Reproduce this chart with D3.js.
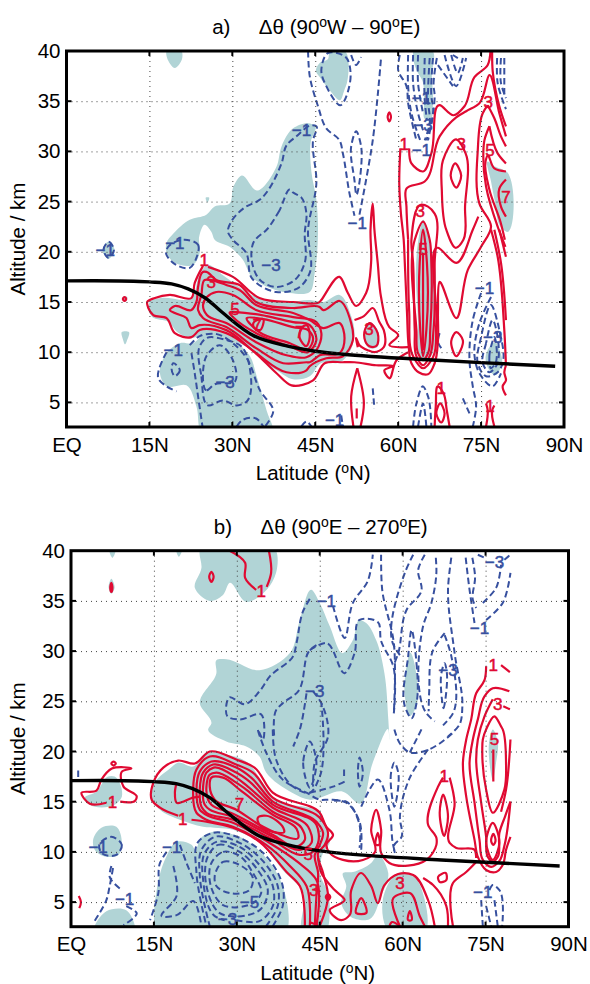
<!DOCTYPE html>
<html>
<head>
<meta charset="utf-8">
<script src="https://cdn.jsdelivr.net/npm/d3@7"></script>
<style>
  html, body { margin: 0; padding: 0; background: #fff; }
  text { font-family: "Liberation Sans", sans-serif; white-space: pre; }
</style>
</head>
<body>
<div id="chart"></div>
<script>
// all contours are [latitude, altitude km]
const latTicks = [0, 15, 30, 45, 60, 75, 90];
const latLabels = ["EQ", "15N", "30N", "45N", "60N", "75N", "90N"];
const altTicks = [5, 10, 15, 20, 25, 30, 35, 40];

// tropopause, same in both panels
const tropopause = [[0,17.1],[15,17],[19,16.8],[22,16.3],[25.1,15.4],[28.1,14],[34,11.6],[40,10.6],[45,10.1],[50,9.8],[67,9.2],[88.4,8.6]];

///////// panel a

const aFills = [
  [[18.1,40],[20.8,40],[20.9,39.2],[19.6,38.3],[18.2,39.3]],
  [[47.6,40],[50.3,40],[50.8,37],[50.2,36],[49.5,35.1],[47.6,36.1],[45.8,37.4],[45.1,38],[45.8,38.8],[47.3,39.2]],
  [[62.8,40],[66.2,40],[66.1,37.5],[66.3,35],[65.8,33.2],[64.9,33.2],[64.7,35],[64.4,37],[63.4,38],[62.8,39]],
  [[43.7,32.8],[41,32.3],[38.9,30.5],[38,28.5],[34.4,26.1],[31.7,27.6],[30.2,26.5],[29.5,24.8],[26.8,24.5],[25.3,23.7],[22.3,23.2],[19.3,21.8],[18.1,20.9],[18.1,19.9],[19.6,18.9],[22.9,18.7],[24.1,19.9],[24,21.5],[25,22.7],[26.2,22],[26.8,21.2],[29.5,20.5],[31.9,19.2],[33.5,17.5],[35.6,16.7],[40.4,15.9],[44,16],[44.9,17.9],[45.5,22.2],[45.2,25.2],[44.3,28],[44.2,31],[45,32.5]],
  [[14.8,14.5],[15.2,15.1],[17,15.4],[22.6,15.4],[24,17.6],[25.5,18.7],[28,17.8],[31,16.6],[33.5,15.7],[37,15.2],[40,15],[44,15.2],[46.5,15],[49.4,15.7],[51.5,13.6],[52.1,11.8],[51.2,10],[49.5,9],[46,8.9],[44,7.6],[41,7.3],[38,8.2],[36,8.9],[34,10],[32,10.7],[29,11.4],[26,12],[22.5,11.4],[20,12],[18.5,13],[15.5,13.5]],
  [[25.3,12],[22.9,10.9],[20.5,10.9],[18.1,9.9],[16.9,7.9],[18.1,6.6],[21.7,6.7],[23.5,4.6],[24.4,2],[37.4,2],[36.2,4.2],[34.4,7.6],[33.2,9.6],[30.2,11.2],[27.2,11.9]],
  [[10,12],[11.3,12],[10.9,11.1],[10.6,10.8],[10.2,11.3]],
  [[10.2,15.5],[11,15.5],[10.6,15]],
  [[7.6,21],[8.7,20.2],[7.6,19.3],[6.5,20.2]],
  [[25.2,25.4],[25.8,25.4],[25.5,24.9]],
  [[64.5,23.2],[66,20],[66.8,18],[66.4,14],[66.3,10],[65.3,9.2],[64.4,9.2],[63.6,10],[63.6,13],[63.2,18],[63.6,21]],
  [[54.8,13],[56.4,12],[56.2,10.5],[54.8,10.4],[53.8,11.4],[54.2,12.6]],
  [[76.2,29],[77.5,28.5],[79.6,28],[79.6,22],[78.5,22.5],[77.5,25],[76.8,27]],
  [[77.5,11],[78.5,10],[78.8,9],[77.5,7.7],[76.5,8.2],[75.8,9.5],[76.5,10.5]]
];

const aRedLines = [
  [[24.7,18.6],[23.2,16.9],[22.6,15.4],[18.7,15.7],[16,15.4],[14.6,15],[14.8,14.4],[15.7,13.7],[18.1,13.4],[19.6,11.9],[22.6,11.5],[24.1,12.2],[28.9,11.9],[33.8,10.1],[38,7.9],[40.7,6.7],[44.6,7.2],[46.7,8.9],[50,9],[52.1,9],[56,8.7],[59,8.6],[57.5,8.2],[58.4,7.4],[59.7,9.2],[61.8,10]],
  [[25.6,18.5],[30.1,17.5],[34.9,15.4],[41,15],[45.8,15],[46.1,15.2],[49.4,17.5],[50.9,15.9],[52.4,14.6],[54.2,15.9],[55.1,18.9],[55,22.2],[55.4,24.8],[55.7,22.2],[56.3,18.9],[56.9,15.5],[58.4,12.5],[60,11.7],[58.4,10.7],[61.8,10.5]],
  // 60N column and the level 1 line up to the top
  [[76.7,40],[76.2,38.6],[73.8,37.4],[72,34.5],[70,33.6],[67.5,34.6],[66,29.8],[64.5,28],[62.4,28.8],[62,30.3]],
  [[60.4,30.3],[60.2,26.8],[60.5,23.8],[61,21.2],[61.2,18.9],[61.6,13.9],[61.9,10.6],[62.4,8.9],[63.7,8],[65.4,7.8],[66.6,8.9],[67.2,11.2],[67.2,14],[67.5,17],[70.5,13.4],[72.6,18.2],[75,20.5],[76.8,22.5],[74.7,24.8],[74.4,30.1],[75.3,33.8],[76.2,34.6]],
  [[61.8,21.2],[61.5,24.5],[61.5,26.3],[64.8,27],[67.5,31.5],[70.5,33.4],[72.3,34],[74.7,34.8],[76.5,37.6],[78.3,33.8],[79.5,31.5]],
  [[61.8,21.2],[62,14],[62.7,9.6],[64.5,8.4],[66.3,9.5],[66.9,13],[67.2,20.4],[70.5,18.9],[73.5,22.2],[74.5,23.5]],
  [[77,40],[77.1,38],[78.3,34.5],[79.5,32.5]],
  [[76.2,34.6],[77.4,33.3],[78.6,31.5],[79.5,30.5]],
  [[76.5,32.5],[75.6,31.1],[75.4,29.5],[75.9,26.5],[78,22.5],[78.9,21.2],[79.4,20.5]],
  [[76.5,32.5],[78,29.8],[79.5,28.8]],
  [[79.5,28],[77.4,28.3],[76.2,29.6],[75.8,29],[76.5,26.2],[78.5,23],[79.3,21.2]],
  [[79.5,27.2],[78.3,26.3],[78.6,24.5],[79.5,23.5]],
  [[76.8,22.2],[78,19.5],[79.2,12.2],[79.5,8.7]],
  [[77.4,22.2],[78.6,18.9],[79.5,13.2]],
  [[78.3,22.2],[79.5,19.5]],
  [[64.5,19.9],[64.5,10.2]],
  [[52.6,8.4],[51.5,5.6],[51.9,2.6]],
  [[52.6,8.4],[53.8,4.9],[53.2,2.6]],
  [[52.5,4.4],[52.5,3.4]],
  [[66.6,2.6],[66.8,4.6],[67.2,6.6],[68.2,5.9],[68.8,4.2],[69.3,2.6]],
  [[75.9,2.6],[76.2,4.2],[75.9,4.9]],
  [[77.4,2.6],[77,4.2],[77.4,4.7]],
  [[79.5,8.7],[79.2,8],[79.5,7.2],[78.9,6.6],[79.5,5.7]],
  [[52.1,13.2],[53.8,13.6],[55.4,14.4],[56.6,13],[57.4,12.2],[57.4,10.5],[55.7,10],[54.5,10.2],[53,10.7],[52.4,11.4],[52.7,10.5]]
];

const aRedLoops = [
  [[25.3,18],[27.1,17.2],[31.3,16.7],[34.3,15],[41,14.4],[45.8,14.5],[46.4,14.2],[49.4,15.1],[51.5,12.9],[51.8,11.2],[50,9.6],[47,9.4],[44,8.6],[43.4,8.2],[39.8,8],[34.3,9.9],[28.9,12.2],[24.1,12.7],[22.6,12.4],[21.7,13.4],[19.6,13.9],[18.7,14.2],[19.6,14.6],[22.6,14.2],[23.5,15],[23.8,16.5],[24.7,18]],
  [[25.9,17.2],[28.9,16.7],[31.3,16.2],[34.3,14.7],[41,13.9],[44,13.2],[46.4,12.4],[49.4,12.9],[50.3,11.4],[49.4,9.9],[45.8,9.7],[44,9],[43.4,9],[39.2,8.9],[34.3,10.4],[28.9,12.5],[24.7,13.4],[23.8,14.2],[24.4,15.7],[25,17.2]],
  [[25.4,15.5],[27.1,16],[30.1,15.7],[34.3,14.2],[41,13.5],[45.2,13],[46.1,11.9],[45.2,10.2],[43.4,9.5],[39.8,9.7],[34.3,11],[28.9,12.9],[25.4,13.7],[24.7,14.7]],
  [[29.5,13.9],[32.6,13.9],[36.2,13.6],[41,13],[44,12.7],[45.2,11.2],[43.7,10],[40.4,10.6],[35,11.7],[30.1,13.5]],
  [[32.6,13.4],[35.6,13.3],[41,12.5],[43.7,12.2],[44.6,11.4],[43.7,10.3],[40.4,10.9],[34.9,12]],
  [[33.8,12.9],[35.6,13.3],[35,12.2],[34,12.4]],
  [[43.4,12.7],[44,11.5],[43.4,10.6],[42.2,11.4],[42.5,12.4]],
  [[64.2,24.7],[62.4,21.2],[62.7,18.9],[63,12.2],[63.3,9.6],[64.5,8.7],[65.7,9.6],[66.4,12.2],[66.6,18.9],[66.6,23.8],[65.4,24.5]],
  [[64.5,23],[63,21.2],[63.3,12.2],[63.6,9.9],[64.5,9.2],[65.4,9.9],[65.8,12.2],[66,18.9],[65.7,21.2]],
  [[64.5,22.2],[63.9,18.9],[64,12.2],[64.5,9.6],[65.1,12.2],[65.2,18.9]],
  [[70.5,31.2],[68.1,29.1],[67.9,26.1],[68.7,22.2],[70.5,20.4],[71.8,21.2],[72.1,24.5],[72.2,29.8]],
  [[70.3,28.8],[71.4,27.6],[70.5,26.4],[69.5,27.6]],
  [[70.5,12],[71.7,11.2],[70.5,9.6],[69.6,11.1]],
  [[67.6,4.9],[66.9,3.9],[67.8,3],[68.4,3.9]],
  [[54.8,12.9],[56.3,11.9],[56,10.6],[54.8,10.6],[53.9,11.4],[54.2,12.5]],
  [[58.4,33.9],[58.7,33.4],[58.4,33],[58.1,33.4]],
  [[10.5,15.5],[10.8,15.3],[10.5,15.1],[10.2,15.3]]
];

const aBlueLines = [
  [[43.7,40],[44,37.5],[45.5,34.5],[47,32.3],[49.4,31.1],[50,29.8],[51.2,25.8],[52.1,23.6]],
  [[53,23.7],[55.4,31.1],[56.9,39.3]],
  [[51.5,39.6],[52.4,38.6],[53.3,39.4]],
  [[22.3,10.7],[24.1,11.6],[27.2,11.8],[30.1,10.9],[32.6,9.4],[35,6.2],[37.4,4.1],[35.9,2.6]],
  [[18.1,10],[16.6,7.4],[18.1,6.6],[19.9,6.1]],
  [[22.6,9.9],[23.2,7.9],[23.8,5.6],[24.6,2.6]],
  [[30.8,2.6],[31.7,3.2],[34.3,3.4],[35.6,2.6]],
  [[42.5,2.6],[43.4,3.1],[44.3,2.6]],
  [[49.7,3.7],[50,2.6]],
  [[55.4,6.4],[55.7,4.4]],
  [[67.5,11.9],[67.2,11],[67.8,10.4]],
  [[62.7,2.6],[63.3,4.9],[64.5,6.6],[65.4,5.6],[66,2.6]],
  [[63.6,2.6],[64.5,4.9],[65.1,2.6]],
  [[75,15.9],[73.5,13.2],[72.9,9.2],[73.5,6.6],[74.1,4.6],[73.5,2.6]],
  [[71.7,5.4],[72.9,3.9]],
  [[76.8,15.5],[74.7,12.9],[73.8,9.7],[74.7,7.9],[77.1,6.6],[78.6,7.9]],
  [[60.3,39.6],[60,38.1],[61.5,36.5],[61.8,34.8],[63.3,31.1]],
  [[61.8,39.6],[61.8,36.5],[62.4,33.8],[64.2,30.8]],
  [[62.7,39.6],[62.7,36.8],[63.6,33.8],[64.5,32.1]],
  [[63.6,39.6],[63.6,36.8],[64.5,33.8]],
  [[64.8,39.3],[64.8,35.1],[65.2,33.1]],
  [[65.7,39.3],[65.4,35.1],[65.7,32.8],[64.8,31.1]],
  [[66.3,39.3],[66,35.5],[66.4,34],[65.1,31.1]],
  [[67,39.3],[66.4,36.6],[66.6,35.6],[65.4,31.1]],
  [[68.4,39.6],[70.5,36.5],[72.3,39.3]],
  [[69.6,39.6],[70.8,37.8],[71.7,39.3]],
  [[67.2,38.6],[69.9,36.5]],
  [[69.9,39.6],[70.8,39.3]],
  [[77.9,39.3],[78,36.8],[79.5,34.2]],
  [[78.6,39.3],[78.6,36.8],[79.5,35.3]],
  [[79.2,39.3],[79.2,35.5]]
];

const aBlueLoops = [
  [[52.4,32],[51.5,30.5],[52.1,27.1],[52.4,25.7],[53.3,30.5]],
  [[50.5,39.4],[51.4,37.5],[49.5,34.6],[47,36.5],[46.1,38],[47.3,39.8]],
  [[41.6,31.5],[39.8,30.6],[38.9,28.8],[35,25.2],[32.2,24.4],[29.8,23],[29.2,22],[30.1,21.2],[32.5,19.9],[33.5,17.4],[37.9,16],[42.2,16.5],[44,17.9],[43.7,22.2],[45.2,26.8],[44.6,31.1],[45.2,32.5],[44.3,32.6]],
  [[40.5,26.2],[38.5,24.1],[36.2,22.2],[34.3,21.3],[33.8,20.9],[33.5,19.2],[35,17.2],[37.9,16.5],[41.3,17.2],[43.1,18.9],[43.1,21.9],[43.4,23.8],[42.5,25.4],[41,25.9]],
  [[21.4,21.2],[23.8,20.7],[23.5,19.4],[22.3,18.4],[19.3,18.9],[18,19.9],[18.4,20.5]],
  [[7.6,21],[8.6,20.2],[7.6,19.4],[6.7,20.2]],
  [[24.1,10.6],[24.4,7.6],[25.6,4.7],[28.3,5.2],[30.8,4.7],[32.6,5.1],[33.1,8.6],[31.6,10.6],[29,11.2],[25.3,11.4]],
  [[25.3,9.6],[25.4,6.2],[26.8,6.8],[30.5,7.1],[30.1,9.2],[27.7,10.7]],
  [[19.3,8.9],[20.5,8.2],[19.6,7.6],[19,8.4]],
  [[76.8,14.7],[75,11.5],[74.4,8.9],[75.9,7.6],[78,8],[78.9,8.9],[78.3,12.2]],
  [[77.1,13.2],[75.9,10.9],[75.3,8.9],[76.5,8],[77.7,8.6],[78,11.5]],
  [[77.4,11.5],[76.5,9.6],[76.8,8.4],[77.6,8.9]]
];

const aRedLabels = [[24.9,19.2,"1"],[26.2,17,"3"],[30.5,14.3,"5"],[34.5,12.7,"7"],[42.2,12,"7"],[54.7,12.3,"3"],[64.5,20.3,"5"],[64,24.1,"3"],[61.1,30.7,"1"],[71.4,30.7,"3"],[76.3,34.9,"3"],[76.6,30.1,"5"],[79.5,25.5,"7"],[67.8,6.4,"1"],[76.6,4.6,"1"]];
const aBlueLabels = [[7,20.2,"−1"],[19.6,20.9,"−1"],[37,18.7,"−3"],[42.5,32.1,"−1"],[19.3,10.2,"−1"],[28.7,7,"−3"],[52.6,22.9,"−1"],[64.2,35.3,"−1"],[64.5,32.6,"−3"],[64.2,30.1,"−1"],[75.6,16.4,"−1"],[77.1,11.5,"−3"],[48.5,3.2,"−1"]];

///////// panel b

const bFills = [
  [[7,40],[8,40],[7.5,39.3]],
  [[7.3,37.2],[7.9,36.3],[7.3,35.7],[6.8,36.3]],
  [[19.1,40],[20,40],[19.5,39.4]],
  [[23.3,40],[37.1,40],[37.1,37.8],[35.4,36.1],[31.7,34.9],[28.7,36.8],[27.5,35.6],[25.1,35],[22.4,36.3],[23.6,38.3]],
  [[43.5,36.1],[41.4,33.1],[39.6,29.8],[34.1,28.1],[28.1,29.2],[26.3,29.1],[26.3,27.8],[23.3,24.8],[25.4,22.8],[24.8,22.2],[28.1,21],[31.7,20.5],[34.1,19.5],[35.3,17.9],[40,15.9],[43.2,15.2],[49.2,16],[52.2,14.8],[54.6,18.9],[57.4,22.2],[57.6,21.2],[57.4,23.2],[56.7,27.8],[55.2,31.1],[53.4,32.8],[52.2,33.1],[51,31.1],[49.2,29.8],[46.8,32.5],[45,34.8]],
  [[61.3,29.8],[62.5,24.5],[61.3,23.5],[60.4,25.5],[60.7,28.5]],
  [[76.3,22.2],[77.2,21],[76.9,18.9],[76.3,17.2],[75.7,18.9],[75.7,21.2]],
  [[14.6,15.4],[14.9,16.7],[17.9,18.3],[19.4,18.9],[22.1,18.5],[24.5,19.9],[28.1,19.7],[31.7,19],[34.7,16.9],[37.1,15.2],[45,13.9],[46.2,12.5],[46.8,10.9],[45.6,9.9],[45,7.9],[46.5,5.9],[46.8,4.2],[46,2],[42,2],[42,5.9],[38.3,8.2],[34.1,10.9],[29.3,12.2],[23.9,12.5],[19.7,13.2],[16.1,14.2]],
  [[49.2,7.9],[51,8],[54.3,8.9],[55.5,9.7],[57.4,7.9],[56.1,5.6],[54,3.3],[50.4,3.6],[48.9,4.9],[49.8,6.6]],
  [[59.2,7.9],[61.9,7.6],[64,5.2],[64,2],[57.6,2],[56.4,5.2]],
  [[25.7,12],[30.5,11.5],[35.3,9.4],[38.3,6.6],[39,2],[15.5,2],[15.5,6.2],[17.3,9.6],[19.1,11],[21.8,10.7],[22.5,10.2],[23.5,11.4]],
  [[4,11.2],[5.5,12.4],[8.2,12.5],[9.2,10.9],[8.6,9.7],[5.8,9.6],[4.3,10.2]],
  [[4,2],[6.4,4.1],[10,4.2],[11.6,2]],
  [[4.6,16],[6.7,17.5],[7.9,17.5],[9.2,15.5],[7.9,14.7],[3.4,14.7],[2.5,15.4]]
];

const bRedLines = [
  [[28.7,40],[31.5,38.8],[31.5,37.3],[33.5,36.1]],
  [[35.4,36.4],[36.2,37.8],[35.8,40]],
  [[6.4,14.9],[3.4,14.8],[1.9,15.9],[4.6,16.1],[5.5,17.2],[7.4,18.3],[10.9,18.3],[9.2,18],[9.5,16.5],[11.9,15.5],[11.6,15.1],[8.9,15]],
  [[19.4,13.6],[16.1,14.4],[14.6,15.2],[14.9,16.9],[16.7,18.4],[19.4,19.1],[22.4,18.8],[25.1,20],[29.9,19.2],[33.2,18.4],[36.5,15.9],[45,13.9],[46.2,12.5],[47.4,11.7],[46.2,10.7],[46.8,9.9],[49.2,9.2],[52.8,9.2],[55,10],[54.3,12.2],[55.2,14.2],[56.1,12.2],[56.1,9.9],[57.6,8.9],[64.3,9.2],[66.1,10.7],[66.1,11.4],[64.6,12.7],[66.4,16.5],[67.3,17.4]],
  [[68.5,17.4],[69.4,14.9],[68.5,10.9],[69.7,10.4],[73,10.2],[73.3,9.4]],
  [[21.8,13.2],[24.5,13],[29.3,12.4],[34.1,11],[39,8],[41.4,6.6],[42.3,2.6]],
  [[19.1,16.9],[18.8,15.9],[19.1,14.9],[22.1,15.4],[23.3,15.5]],
  // levels 2 and 3 run down to the bottom of the plot
  [[43.2,2.6],[42.6,6.6],[39.6,8.6],[35.3,10.7],[29.3,12.5],[24.5,13.2],[22.7,13.9],[22.1,16.2],[22.7,18.2],[25.1,19.5],[29.9,18.7],[32.9,17.9],[36.5,15.4],[45,13.4],[46.5,11.9],[45.9,10.7],[44.7,9.9],[45.6,7.9],[46.5,5.6],[45,2.6]],
  [[44.4,2.6],[44.4,7.2],[41,9],[35.6,11],[29.3,12.9],[24.8,13.6],[23.3,14.2],[22.7,16.2],[23.3,18],[25.4,19],[29.9,18.4],[32.6,17.4],[36.5,15],[44.4,13],[45.6,11.9],[45,10.7],[44.1,9.7],[44.7,7.9],[44.4,5.6],[44.1,2.6]],
  [[44.7,9.4],[45.3,7.9],[47.7,6.2],[49.5,5.2],[46.8,4.2],[48.9,3.2],[50.4,3.7],[50.7,6.2],[52.5,7.9],[54.3,6.6],[55.5,4.9],[56.7,6.7],[59.2,7.8],[61.9,7.7],[64.6,5.2],[65.8,2.6]],
  [[57.6,2.6],[58,3],[59.5,2.6]],
  [[59.5,2.6],[58.3,5.4],[61.3,5.9],[63.1,3.6],[64,2.6]],
  [[63.7,7.4],[65.5,6.7],[67.9,4.6],[68.2,2.6]],
  [[69.1,2.6],[69.1,6.9],[71.5,8],[73.3,9]],
  [[43.2,3],[44.7,2.7]],
  [[1.4,5.6],[1.8,5],[1.5,4.4]],
  [[75.1,28.5],[74.8,27.1],[73.3,25.8],[72.4,23.2],[71.5,21.2],[70.9,18.9],[71.5,15.5],[73,11.2],[73.6,9.5],[75.1,8.2],[76.9,8],[78.1,8.7],[78.7,10.2],[79.5,11.5]],
  [[77.8,28.6],[79.4,27.9]],
  [[79.3,26],[76.3,26.3],[74.8,25.5],[73.6,23.2],[72.7,21.2],[72.1,18.9],[73,14.9],[73.9,11.2],[74.5,9.2],[76,8.5],[77.5,9.1],[78.4,10.6],[79.5,15]],
  [[76.3,25.2],[74.8,23.5],[73.6,21.2],[73.3,19.2],[74.2,14.9],[75.1,11.5],[75.4,9.5],[76.3,9],[77.2,9.5],[77.5,11.9],[78.5,13.5],[79.5,15]],
  [[78.2,24.5],[79.4,24.2]],
  [[79.5,21.2],[78.7,16.2],[77.8,14]],
  [[76.4,20.2],[76.4,17]]
];

const bRedLoops = [
  [[23.6,14.5],[23.3,16.2],[23.9,17.9],[25.7,18.7],[29.9,17.9],[32.3,17],[36.5,14.7],[44.4,12.7],[44.7,10.9],[43.5,9.9],[41.4,9.7],[35.9,11.4],[29.3,13.2],[24.5,13.9]],
  [[24.2,14.7],[23.9,16.5],[24.5,17.9],[25.8,18.4],[29.9,17.4],[32,16.5],[36.5,14.4],[42.9,12.5],[43.5,10.9],[41.4,10.2],[36.5,11.5],[29.3,13.5],[25.1,14.2]],
  [[24.8,15.2],[24.5,16.5],[25.1,17.7],[26.3,17.9],[29.9,16.9],[31.7,16.2],[36.5,14],[41.7,12.4],[42.3,11.2],[40.8,10.5],[36.5,11.7],[29.3,13.8],[25.4,14.7]],
  [[25.1,16.5],[25.4,17.4],[27.5,17.4],[30.5,16.2],[36.5,13.7],[40.8,12.3],[41.1,11.4],[37.1,11.9],[34.1,12.7],[29.9,14.2],[26,15.2]],
  [[33.8,13.4],[35.3,13.6],[38.4,12.4],[38.6,12],[36.5,12],[34.1,12.7]],
  [[7.3,36.8],[7.5,36.3],[7.3,35.9],[7.1,36.3]],
  [[25.4,37.9],[25.8,37.4],[25.4,36.9],[25,37.4]],
  [[7.7,19],[8.1,18.8],[7.7,18.6],[7.3,18.8]],
  [[67.3,15.7],[66.7,13.9],[67.5,11.6],[68.2,13.5]],
  [[66.4,7.5],[67.8,7.9],[67.9,7.2],[66.7,7]],
  [[46.5,5.8],[46.9,5.5],[46.5,5.2],[46.1,5.5]],
  [[52.5,5.4],[51.6,3.9],[53.4,3.9]],
  [[55.5,11.9],[55.2,10.7],[55.7,10.7]],
  [[61.3,4.1],[61.6,3.2],[61,3.2]],
  [[76.6,23.5],[75.1,22.2],[74.5,21.2],[74.4,20.2],[75.1,16.2],[76.3,13.9],[78.4,16.2],[78.7,18.9],[78.1,22.2],[77.8,22.5]],
  [[76.3,12.9],[75.1,10.9],[76.3,9.2],[77.5,10.9]],
  [[76.4,11.8],[76,11.1],[76.4,10.7],[76.8,11.1]]
];

const bBlueLines = [
  [[1.3,18.1],[1.3,17.4]],
  [[7.3,8.6],[7,7.5],[9.2,6.2]],
  [[7.6,8.4],[7,6.6],[6.4,5.2],[4,2.9]],
  [[10,4.6],[11.9,3.9],[9.5,2.7]],
  [[17.3,10],[16.1,8.9],[15.8,5.9],[14.3,3.2]],
  [[19.7,10.7],[20.9,8.9],[22.4,6.9]],
  [[18.5,8.6],[19.1,5.6],[16.4,3.6],[19.1,3.7],[22.1,5.1],[23.6,2.6]],
  [[36.5,2.6],[38.3,4.6],[38.3,6.6],[35.3,9.6],[30.5,11.4],[25.7,11.9],[23,11],[22.7,7.9],[24.5,2.6]],
  [[35.3,2.6],[37.4,4.6],[37.4,6.6],[34.7,9.1],[30.5,10.9],[26,11.5],[23.6,10.2],[23.3,7.6],[25.1,2.6]],
  [[29.9,3.2],[34.1,3.1],[36.5,4.6],[36.5,6.6],[34.1,8.7],[30.5,10.5],[26.3,11],[24.2,9.9],[23.9,7.2],[26,3.6],[27.8,3.2]],
  [[43.2,35.2],[42,34],[40.8,30.8],[40.2,29.5],[36,27.5],[34.1,26],[31.4,24.7],[28.7,25.4],[28.3,23.5],[30.5,23.2],[34.4,23.7],[34.7,21.2],[33.8,22.2],[35.3,19.9],[38.3,17.2],[42.6,15.9],[45,15.2],[46.8,15.2],[49.8,14.9],[52.2,13],[52.5,10.2]],
  [[47.4,34.5],[49.5,31.3],[51,34.8],[53.7,37],[54.6,39.6]],
  [[43.2,30.1],[46.2,30.8],[49.5,27.8],[51.3,29.8],[52.2,33.1],[55.5,32.9],[56.1,31],[58.3,28.5],[58.4,23.8]],
  [[58.5,22.2],[59.5,20.8],[61.3,19.9],[64.3,20.1],[66.7,20.8],[69.4,22]],
  [[44.4,30.6],[43.2,30.1],[41.1,26],[38.3,24.8],[37.1,24.1],[36.8,21.2]],
  [[42.6,25.8],[41.4,22.2],[40.2,20.5]],
  [[36.5,22.2],[37.1,19.2],[40.2,16.5],[43.2,15.9],[45,17.5],[45.3,24.8]],
  [[43.8,26],[45.3,24.8],[46.5,21.5],[44.1,18.9],[43.8,16.5]],
  [[52.5,14.5],[55.5,17.2],[57.6,14.2],[58.2,10.9],[58.6,9.9]],
  [[49.4,18.2],[49.4,17.4]],
  [[43.2,15.9],[47.4,16.5],[49.5,17]],
  [[47.6,15.1],[49.8,15],[52.2,12.7],[52.2,10.4]],
  [[56.1,39.6],[56.3,36.1],[58.4,30.8],[58.4,23.8]],
  [[61.9,39.6],[60.4,37.8],[58.2,30.8],[59.5,29.6]],
  [[64,39.6],[62.8,38.1],[63.4,36],[60.7,34.1],[59.2,29.8],[58.3,28.5]],
  [[66,39.3],[66.1,37.8],[65.2,34.8],[63.7,32.5],[64.3,23.8],[65.8,23]],
  [[68.8,39.3],[68.2,36.1],[69.4,29.8],[70.8,24.5],[70.3,22.7],[68.2,21.5]],
  [[67.6,31.8],[65.5,30.1],[64.8,26],[64.7,24]],
  [[67.6,31.6],[68.8,29.5],[69.1,23.8],[67.3,22.6]],
  [[71.4,39.3],[72.1,36.1],[73,32.8]],
  [[72.6,39.3],[73.1,37.4],[72.7,35.1],[73.3,34.3]],
  [[75.1,33.1],[78.1,34.8],[79.5,37.8]],
  [[74.5,34.8],[76.9,36.3],[77.8,38.6]],
  [[73.6,39.6],[74.8,39.3]],
  [[78.4,39.1],[79.5,39.6]],
  [[75.7,6.2],[76.3,6.7],[77.5,6.2],[78,2.6]],
  [[74.2,5.2],[74.5,2.6]],
  [[75.1,4.6],[76,2.6]],
  [[76.6,5.2],[77.2,2.6]],
  [[63.4,22.2],[61.3,19.9]],
  [[64.6,20.2],[61.3,17.4],[59.5,13.5],[59.8,11.5],[58.4,10.6],[58.6,9.9]]
];

const bBlueLoops = [
  [[7.3,11.5],[9.2,10.7],[8.2,9.7],[5.5,9.9],[5.1,10.7]],
  [[24.8,9.6],[26.6,10.7],[30.5,10],[33.5,8.4],[35.6,6.2],[35.3,5.2],[34.1,4.2],[26.9,3.9],[24.5,6.6]],
  [[25.4,8.9],[27.5,10],[30.5,9.6],[32.9,7.9],[34.4,5.9],[33.2,5],[27.5,4.7],[25.4,6.4]],
  [[26,7.6],[27.5,9],[30.5,8.7],[32.9,7.4],[32.3,6.2],[28.7,5.9],[26.3,6.6]],
  [[43.2,21],[42,18.9],[43.2,16.4],[44.4,18.9]],
  [[52.2,19.4],[51.9,17.9],[52.2,16.5],[52.8,17.9]],
  [[61.6,32.1],[62.5,28.8],[62.5,24.8],[61.6,23.3],[60.4,24.5],[61,29.5]],
  [[67,27.8],[67.4,24.3],[68,27.8],[67.6,28.8]],
  [[58.5,18.9],[57.9,17.9],[58.5,14.5],[59.2,17.9]]
];

const bRedLabels = [[34.4,36,"1"],[7.5,15,"1"],[20.2,13.3,"1"],[30.5,14.8,"7"],[42.9,9.8,"5"],[43.9,6.2,"3"],[59.5,6.9,"3"],[67.5,17.6,"1"],[76.6,21.2,"5"],[77.2,24.7,"3"],[76.4,28.6,"1"]];
const bBlueLabels = [[46.2,35,"−1"],[44.1,26,"−3"],[4.9,10.5,"−1"],[9.7,5.3,"−1"],[18.2,10.5,"−1"],[28.3,3.3,"−3"],[32.3,5,"−5"],[68.2,28.1,"−3"],[73.9,32.3,"−1"],[76.6,38.9,"−3"],[74.5,6,"−1"]];

///////// drawing

const teal = "#b1d4d6", red = "#e00a32", blue = "#37509f";

const svg = d3.select("#chart").append("svg")
    .attr("width", 590)
    .attr("height", 984)
    .style("display", "block");

// parts flagged 1 are the raised "o" degree marks
function title(g, x, y, parts) {
  const t = g.append("text").attr("x", x).attr("y", y).attr("text-anchor", "middle").attr("font-size", 20.5);
  let raised = false;
  parts.forEach(function(p) {
    const shift = p[1] ? -7 : (raised ? 7 : 0);
    t.append("tspan").attr("dy", shift).attr("font-size", p[1] ? 14 : 20.5).text(p[0]);
    raised = !!p[1];
  });
}

function drawPanel(id, box, titleParts, fills, redLines, redLoops, blueLines, blueLoops, redLabels, blueLabels) {
  const x = d3.scaleLinear().domain([0, 90]).range([box.left, box.left + 497.5]);
  const y = d3.scaleLinear().domain([2.55, 40]).range([box.bottom, box.top]);
  const width = x.range()[1] - x.range()[0];
  const height = box.bottom - box.top;

  const g = svg.append("g");

  g.append("defs").append("clipPath")
    .attr("id", "clip" + id)
  .append("rect")
    .attr("x", box.left).attr("y", box.top)
    .attr("width", width).attr("height", height);

  const plot = g.append("g").attr("clip-path", "url(#clip" + id + ")");

  const open = d3.line().x(d => x(d[0])).y(d => y(d[1])).curve(d3.curveCatmullRom.alpha(0.8));
  const closed = d3.line().x(d => x(d[0])).y(d => y(d[1])).curve(d3.curveCatmullRomClosed.alpha(0.8));

  plot.selectAll(".fill").data(fills).enter().append("path")
    .attr("class", "fill")
    .attr("d", closed)
    .attr("fill", teal);

  // dotted grid sits over the shading
  const gridX = d3.axisBottom(x).tickValues(latTicks.slice(1, -1)).tickSize(-height).tickFormat("");
  const gridY = d3.axisLeft(y).tickValues(altTicks.slice(0, -1)).tickSize(-width).tickFormat("");
  g.append("g").attr("transform", "translate(0," + box.bottom + ")").call(gridX)
    .call(a => a.select(".domain").remove())
    .selectAll("line").attr("stroke", "#444").attr("stroke-dasharray", "1,4");
  g.append("g").attr("transform", "translate(" + box.left + ",0)").call(gridY)
    .call(a => a.select(".domain").remove())
    .selectAll("line").attr("stroke", "#444").attr("stroke-dasharray", "1,4");

  function contour(lines, gen, colour, dash, w) {
    plot.append("g").selectAll("path").data(lines).enter().append("path")
      .attr("d", gen)
      .attr("fill", "none")
      .attr("stroke", colour)
      .attr("stroke-width", w)
      .attr("stroke-linejoin", "round")
      .attr("stroke-dasharray", dash);
  }
  contour(blueLines, open, blue, "6.5,3.5", 2);
  contour(blueLoops, closed, blue, "6.5,3.5", 2);
  contour(redLines, open, red, null, 2.2);
  contour(redLoops, closed, red, null, 2.2);

  plot.append("path")
    .attr("d", open(tropopause))
    .attr("fill", "none")
    .attr("stroke", "#000")
    .attr("stroke-width", 3.4);

  function labels(list, colour) {
    g.append("g").selectAll("text").data(list).enter().append("text")
      .attr("x", d => x(d[0]))
      .attr("y", d => y(d[1]))
      .attr("dy", ".35em")
      .attr("text-anchor", "middle")
      .attr("font-size", 17)
      .attr("fill", colour)
      .attr("stroke", colour)
      .attr("stroke-width", 0.5)
      .text(d => d[2]);
  }
  labels(redLabels, red);
  labels(blueLabels, blue);

  // frame and inward ticks
  g.append("rect")
    .attr("x", box.left).attr("y", box.top)
    .attr("width", width).attr("height", height)
    .attr("fill", "none").attr("stroke", "#000").attr("stroke-width", 3);

  const xAxis = d3.axisBottom(x).tickValues(latTicks).tickFormat((d, i) => latLabels[i]).tickSize(0).tickPadding(10);
  const yAxis = d3.axisLeft(y).tickValues(altTicks).tickSize(0).tickPadding(6);
  const gX = g.append("g").attr("transform", "translate(0," + box.bottom + ")").call(xAxis);
  const gY = g.append("g").attr("transform", "translate(" + box.left + ",0)").call(yAxis);
  [gX, gY].forEach(function(a) {
    a.select(".domain").remove();
    a.selectAll("text").attr("font-size", 20.5).attr("font-family", "Liberation Sans").attr("fill", "#000");
  });

  // short tick marks on all four sides
  const tickG = g.append("g").attr("stroke", "#000").attr("stroke-width", 2);
  latTicks.slice(1, -1).forEach(function(d) {
    tickG.append("line").attr("x1", x(d)).attr("x2", x(d)).attr("y1", box.bottom).attr("y2", box.bottom - 5);
    tickG.append("line").attr("x1", x(d)).attr("x2", x(d)).attr("y1", box.top).attr("y2", box.top + 5);
  });
  altTicks.slice(0, -1).forEach(function(d) {
    tickG.append("line").attr("x1", box.left).attr("x2", box.left + 5).attr("y1", y(d)).attr("y2", y(d));
    tickG.append("line").attr("x1", box.left + width).attr("x2", box.left + width - 5).attr("y1", y(d)).attr("y2", y(d));
  });

  title(g, box.left + width / 2 + 1, box.top - 17, titleParts);
  title(g, box.left + width / 2 - 2, box.bottom + 53, [["Latitude ("], ["o", 1], ["N)"]]);

  g.append("text")
    .attr("transform", "translate(25," + ((box.top + box.bottom) / 2) + ") rotate(-90)")
    .attr("text-anchor", "middle")
    .attr("font-size", 20.5)
    .text("Altitude / km");
}

drawPanel("a", {left: 66.5, top: 51, bottom: 427},
  [["a)     Δθ (90"], ["o", 1], ["W – 90"], ["o", 1], ["E)"]],
  aFills, aRedLines, aRedLoops, aBlueLines, aBlueLoops, aRedLabels, aBlueLabels);

drawPanel("b", {left: 71, top: 550.7, bottom: 926.7},
  [["b)     Δθ (90"], ["o", 1], ["E – 270"], ["o", 1], ["E)"]],
  bFills, bRedLines, bRedLoops, bBlueLines, bBlueLoops, bRedLabels, bBlueLabels);
</script>
</body>
</html>
